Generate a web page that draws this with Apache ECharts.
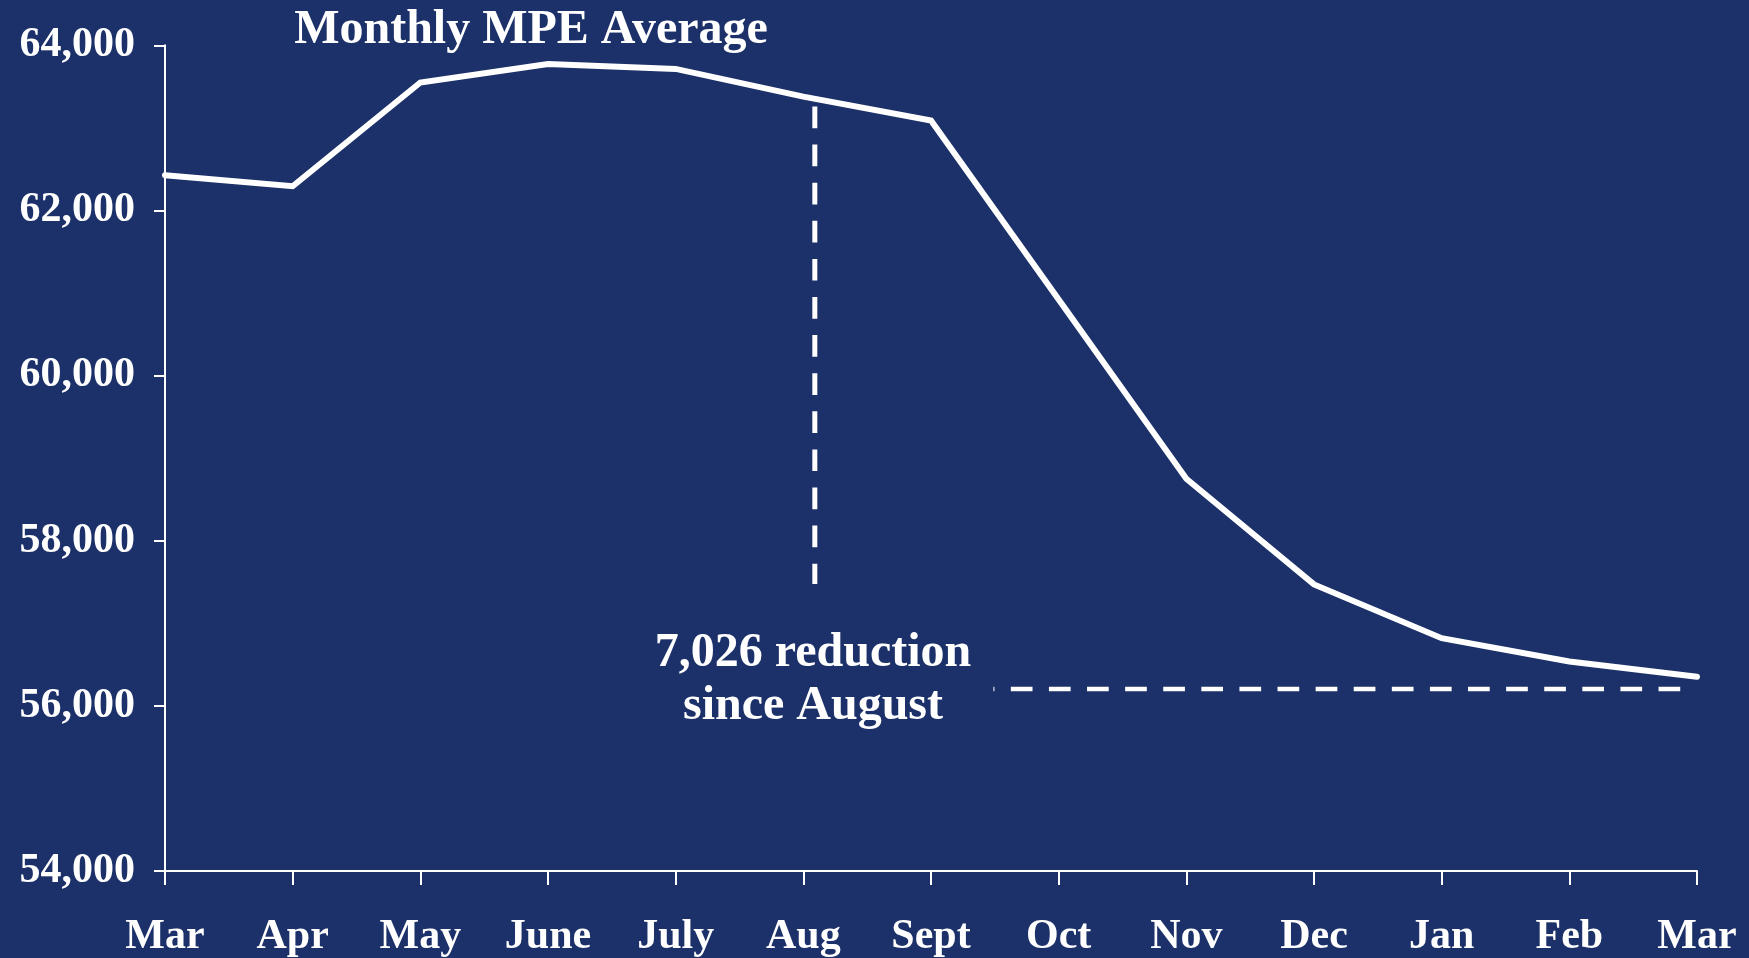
<!DOCTYPE html>
<html>
<head>
<meta charset="utf-8">
<script src="https://cdn.jsdelivr.net/npm/echarts@6/dist/echarts.min.js"></script>
<style>
html,body{margin:0;padding:0;background:#1c3169;}
#chart{width:1749px;height:958px;}
</style>
</head>
<body>
<div id="chart"></div>
<script>
// Data
const months = ['Mar','Apr','May','June','July','Aug','Sept','Oct','Nov','Dec','Jan','Feb','Mar'];
const mpeAverage = [62426, 62293, 63549, 63774, 63714, 63378, 63090, 60920, 58751, 57471, 56820, 56538, 56352];
const yTicks = { min: 54000, max: 64000, step: 2000 };
// Annotation guide lines (x in category-index units, y in MPE)
const augustDrop = [[5.09, 63259], [5.09, 57475]];
const reductionLevel = [[6.489, 56203], [11.872, 56203]];
const titleText = 'Monthly MPE Average';
const noteText = '7,026 reduction\nsince August';

const FONT = '"Liberation Serif", "Times New Roman", serif';
const WHITE = '#ffffff';

const chart = echarts.init(document.getElementById('chart'), null, {renderer: 'canvas'});
chart.setOption({
  backgroundColor: '#1c3169',
  animation: false,
  title: {
    text: titleText,
    left: 531, top: 6.5, textAlign: 'center', padding: 0,
    textStyle: { color: WHITE, fontFamily: FONT, fontWeight: 'bold', fontSize: 48 }
  },
  grid: { left: 165, right: 52, top: 45.3, bottom: 84.5, containLabel: false },
  xAxis: [{
    type: 'category',
    data: months,
    boundaryGap: false,
    axisLine: { lineStyle: { color: WHITE, width: 2 } },
    axisTick: { show: true, length: 14, inside: false, lineStyle: { color: WHITE, width: 2 }, alignWithLabel: true },
    axisLabel: { color: WHITE, fontFamily: FONT, fontWeight: 'bold', fontSize: 42, margin: 45, interval: 0 },
    splitLine: { show: false }
  }, {
    type: 'value', min: 0, max: months.length - 1, show: false
  }],
  yAxis: {
    type: 'value',
    min: yTicks.min, max: yTicks.max, interval: yTicks.step,
    axisLine: { show: true, lineStyle: { color: WHITE, width: 2 } },
    axisTick: { show: true, length: 11, lineStyle: { color: WHITE, width: 2 } },
    axisLabel: {
      color: WHITE, fontFamily: FONT, fontWeight: 'bold', fontSize: 42, margin: 30,
      formatter: v => v.toLocaleString('en-US')
    },
    splitLine: { show: false }
  },
  series: [{
    type: 'line',
    data: mpeAverage,
    xAxisIndex: 0,
    showSymbol: false,
    symbol: 'none',
    lineStyle: { color: WHITE, width: 6, cap: 'round', join: 'miter' }
  }, {
    type: 'line',
    xAxisIndex: 1,
    data: augustDrop,
    symbol: 'none',
    lineStyle: { color: WHITE, width: 5, type: [21.7, 16.4] }
  }, {
    type: 'line',
    xAxisIndex: 1,
    data: reductionLevel,
    symbol: 'none',
    lineStyle: { color: WHITE, width: 4.5, type: [21.7, 16.4], dashOffset: 20.7 }
  }],
  graphic: [{
    type: 'text',
    x: 813, y: 627.5,
    style: {
      text: noteText,
      fill: WHITE,
      font: 'bold 48px ' + FONT,
      align: 'center',
      verticalAlign: 'top',
      lineHeight: 53
    }
  }]
});
</script>
</body>
</html>
